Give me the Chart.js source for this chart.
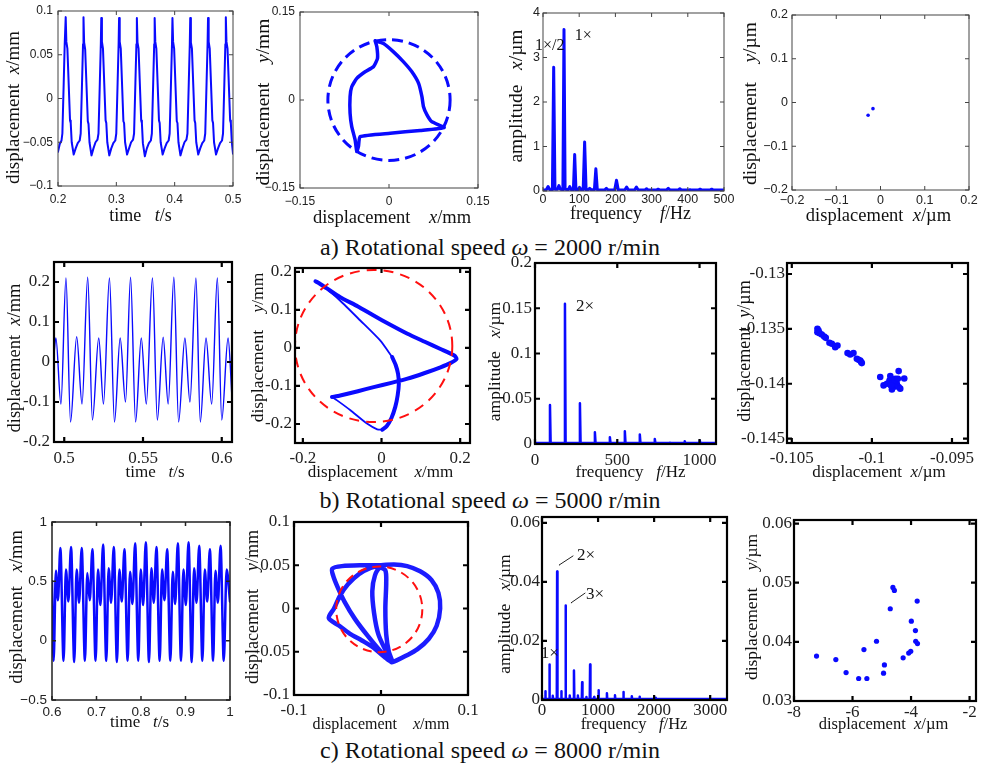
<!DOCTYPE html>
<html>
<head>
<meta charset="utf-8">
<script src="https://cdn.jsdelivr.net/npm/chart.js@4.4.1/dist/chart.umd.min.js"></script>
<style>
body { margin: 0; background: #fff; width: 986px; height: 764px; position: relative; overflow: hidden; }
canvas { position: absolute; }
.cap { position: absolute; font-family: "Liberation Serif", "Times New Roman", serif; font-size: 24px; color: #111;
       white-space: nowrap; transform: translate(-50%, -50%); line-height: 1; }
</style>
</head>
<body>
<div class="cap" style="left:490px;top:247px">a) Rotational speed <i>ω</i> = 2000 r/min</div>
<div class="cap" style="left:490px;top:500px">b) Rotational speed <i>ω</i> = 5000 r/min</div>
<div class="cap" style="left:490px;top:750px">c) Rotational speed <i>ω</i> = 8000 r/min</div>
<script>
// ---------- a) 2000 r/min ----------
const tA = [0.2000,0.2030,0.2060,0.2075,0.2098,0.2115,
  0.2132,0.2143,0.2161,0.2206,0.2218,0.2235,0.2269,0.2303,0.2338,0.2372,0.2389,0.2412,0.2429,
  0.2437,0.2448,0.2466,0.2511,0.2523,0.2540,0.2574,0.2608,0.2643,0.2677,0.2694,0.2717,0.2734,
  0.2742,0.2753,0.2771,0.2816,0.2828,0.2845,0.2879,0.2913,0.2948,0.2982,0.2999,0.3022,0.3039,
  0.3047,0.3058,0.3076,0.3121,0.3133,0.3150,0.3184,0.3218,0.3253,0.3287,0.3304,0.3327,0.3344,
  0.3352,0.3363,0.3381,0.3426,0.3438,0.3455,0.3489,0.3523,0.3558,0.3592,0.3609,0.3632,0.3649,
  0.3657,0.3668,0.3686,0.3731,0.3743,0.3760,0.3794,0.3828,0.3863,0.3897,0.3914,0.3937,0.3954,
  0.3962,0.3973,0.3991,0.4036,0.4048,0.4065,0.4099,0.4133,0.4168,0.4202,0.4219,0.4242,0.4259,
  0.4267,0.4278,0.4296,0.4341,0.4353,0.4370,0.4404,0.4438,0.4473,0.4507,0.4524,0.4547,0.4564,
  0.4572,0.4583,0.4601,0.4646,0.4658,0.4675,0.4709,0.4743,0.4778,0.4812,0.4829,0.4852,0.4869,
  0.4877,0.4888,0.4906,0.4951,0.4963,0.4980,0.5000];
const xA = [-0.061,-0.052,-0.048,-0.040,0.018,0.062,
  0.093,0.065,0.057,-0.025,-0.028,-0.050,-0.064,-0.057,-0.051,-0.048,-0.040,0.018,0.062,
  0.093,0.064,0.056,-0.026,-0.029,-0.050,-0.065,-0.057,-0.050,-0.047,-0.040,0.018,0.062,
  0.092,0.065,0.057,-0.025,-0.028,-0.050,-0.065,-0.057,-0.051,-0.048,-0.040,0.018,0.062,
  0.092,0.065,0.057,-0.026,-0.028,-0.050,-0.064,-0.057,-0.050,-0.047,-0.040,0.018,0.062,
  0.092,0.064,0.057,-0.025,-0.028,-0.051,-0.066,-0.057,-0.051,-0.048,-0.040,0.018,0.062,
  0.092,0.065,0.057,-0.025,-0.028,-0.050,-0.064,-0.057,-0.051,-0.048,-0.040,0.018,0.062,
  0.092,0.065,0.057,-0.026,-0.028,-0.050,-0.065,-0.057,-0.050,-0.047,-0.040,0.018,0.062,
  0.092,0.064,0.057,-0.025,-0.028,-0.050,-0.064,-0.057,-0.051,-0.048,-0.040,0.018,0.062,
  0.092,0.065,0.057,-0.025,-0.028,-0.050,-0.064,-0.057,-0.051,-0.048,-0.040,0.018,0.062,
  0.093,0.065,0.057,-0.025,-0.028,-0.050,-0.063];

const orbAx = [-0.0234,-0.0205,-0.0194,-0.0262,-0.0403,-0.0543,-0.0628,-0.0656,-0.0656,-0.0628,-0.0571,-0.0543,-0.0515,-0.0487,
  0.0020,0.0526,0.0930,0.0720,0.0640,0.0580,0.0555,0.0499,0.0386,0.0245,0.0076,-0.0093,-0.0234];
const orbAy = [0.1008,0.0906,0.0708,0.0566,0.0481,0.0368,0.0226,0.0057,-0.0226,-0.0453,-0.0679,-0.0877,-0.0792,-0.0623,
  -0.0566,-0.0520,-0.0470,-0.0370,-0.0255,-0.0110,0.0057,0.0283,0.0480,0.0650,0.0820,0.0962,0.1008];
const ringA = [0, 0, 0.103];

const fA = [0,9,14,19,26,29.5,33,40,44,48,55,58,61,70,74,78,84,87.5,91,97,101,105,111,115,119,125,129,133,142,146,150,
  170,175,180,198,203,208,226,231,236,253,258,263,281,286,291,313,318,323,341,346,351,373,378,383,401,406,411,
  429,434,439,461,466,471,500];
const ampA = [0.02,0.03,0.10,0.03,0.03,2.78,0.04,0.04,0.12,0.04,0.03,3.63,0.04,0.03,0.10,0.03,0.03,0.82,0.03,
  0.03,0.08,0.03,0.03,1.10,0.03,0.03,0.06,0.03,0.03,0.50,0.03,0.02,0.06,0.02,0.02,0.24,0.02,0.02,0.09,0.02,
  0.02,0.09,0.02,0.02,0.05,0.02,0.02,0.04,0.02,0.02,0.06,0.02,0.02,0.05,0.02,0.02,0.03,0.02,0.02,0.04,0.02,
  0.02,0.04,0.02,0.02];

const poiAx = [-0.017, -0.028];
const poiAy = [-0.014, -0.029];

// ---------- b) 5000 r/min ----------
const tB = [0.4935,0.4947,0.4979,0.5011,0.5040,0.5079,0.5113,0.5149,0.5179,0.5219,0.5249,0.5287,0.5319,0.5355,
  0.5389,0.5421,0.5453,0.5489,0.5521,0.5560,0.5591,0.5628,0.5660,0.5696,0.5726,0.5766,0.5798,0.5836,0.5864,
  0.5900,0.5936,0.5972,0.6000,0.6040,0.6065];
const xB = [0.020,0.060,-0.105,0.210,-0.150,0.063,-0.105,0.212,-0.145,0.060,-0.105,0.210,-0.150,0.060,
  -0.100,0.212,-0.150,0.060,-0.105,0.210,-0.145,0.062,-0.105,0.212,-0.150,0.060,-0.100,0.210,-0.150,
  0.060,-0.105,0.210,-0.145,0.060,-0.090];

const orbBx = [0.027,0.036,0.042,0.044,0.041,0.035,0.025,0.013,0.002,null,
  -0.126,-0.105,-0.060,-0.020,0.025,0.066,0.110,0.150,0.175,0.191,0.185,0.150,0.110,0.066,0.020,-0.020,-0.060,-0.105,-0.140,-0.162,-0.168];
const orbBy = [-0.024,-0.045,-0.068,-0.095,-0.125,-0.155,-0.185,-0.206,-0.215,null,
  -0.129,-0.125,-0.114,-0.103,-0.092,-0.081,-0.066,-0.051,-0.040,-0.029,-0.020,-0.003,0.016,0.037,0.062,0.085,0.109,0.133,0.157,0.172,0.175];
const orbBthinX = [-0.168,-0.150,-0.105,-0.054,-0.003,0.027,null,0.002,-0.011,-0.037,-0.079,-0.113,-0.126];
const orbBthinY = [0.175,0.163,0.124,0.072,0.019,-0.024,null,-0.215,-0.214,-0.199,-0.164,-0.138,-0.129];
const ringB = [-0.02, 0.005, 0.2];

const fB = [0,87,91,95,178,182,186,269,273,277,360,364,368,451,455,459,542,546,550,633,637,641,724,728,732,
  815,819,823,906,910,914,997,1001,1005,1100];
const ampB = [0.001,0.001,0.043,0.001,0.001,0.155,0.001,0.001,0.045,0.001,0.001,0.013,0.001,0.001,0.0075,0.001,
  0.001,0.014,0.001,0.001,0.0105,0.001,0.001,0.0055,0.001,0.001,0.0015,0.001,0.001,0.003,0.001,0.001,0.004,0.001,0.001];

const poiBx = [-0.10340,-0.10333,-0.10340,-0.10327,-0.10313,-0.10298,-0.10288,-0.10265,-0.10250,-0.10229,-0.10215,
  -0.10152,-0.10135,-0.10115,-0.10094,-0.10083,-0.10073,-0.10067,-0.10063,
  -0.09948,-0.09885,-0.09833,-0.09798,-0.09927,-0.09906,-0.09890,-0.09875,-0.09865,-0.09854,-0.09848,-0.09844,
  -0.09833,-0.09823,-0.09875,-0.09860,-0.09838,-0.09881];
const poiBy = [-0.13500,-0.13515,-0.13530,-0.13539,-0.13552,-0.13570,-0.13582,-0.13627,-0.13636,-0.13667,-0.13652,
  -0.13721,-0.13733,-0.13721,-0.13773,-0.13782,-0.13788,-0.13803,-0.13812,
  -0.13939,-0.13930,-0.13885,-0.13952,-0.14015,-0.14000,-0.13970,-0.14000,-0.14030,-0.13955,-0.13985,-0.14006,
  -0.14030,-0.14045,-0.14052,-0.13970,-0.13955,-0.14015];

// ---------- c) 8000 r/min ----------
const tC = [0.6000,
  0.6036,0.6088,0.6133,0.6188, 0.6260,0.6313,0.6368,0.6428, 0.6500,0.6553,0.6608,0.6668, 0.6740,0.6793,0.6848,0.6908,
  0.6980,0.7033,0.7088,0.7148, 0.7220,0.7273,0.7328,0.7388, 0.7460,0.7513,0.7568,0.7628, 0.7700,0.7753,0.7808,0.7868,
  0.7940,0.7993,0.8048,0.8108, 0.8180,0.8233,0.8288,0.8348, 0.8420,0.8473,0.8528,0.8588, 0.8660,0.8713,0.8768,0.8828,
  0.8900,0.8953,0.9008,0.9068, 0.9140,0.9193,0.9248,0.9308, 0.9380,0.9433,0.9488,0.9548, 0.9620,0.9673,0.9728,0.9788,
  0.9860,0.9925,1.0000];
const xC = [0.50,
  -0.17,0.59,0.34,0.78, -0.17,0.60,0.33,0.79, -0.18,0.60,0.32,0.78, -0.17,0.57,0.34,0.77,
  -0.17,0.60,0.30,0.81, -0.17,0.61,0.32,0.79, -0.18,0.60,0.33,0.77, -0.17,0.58,0.31,0.82,
  -0.17,0.60,0.30,0.83, -0.18,0.61,0.32,0.79, -0.17,0.60,0.34,0.77, -0.17,0.58,0.31,0.82,
  -0.17,0.60,0.30,0.83, -0.18,0.61,0.32,0.80, -0.17,0.60,0.33,0.77, -0.17,0.59,0.32,0.80,
  -0.17,0.60,0.33];

const orbCx = [0.012,0.000,-0.015,-0.030,-0.042,-0.050,-0.055,-0.056,-0.045,-0.020,0.000,0.015,0.030,0.045,0.058,0.066,
  0.068,0.064,0.055,0.042,0.028,0.018,0.012,0.006,-0.003,-0.008,-0.010,-0.007,-0.001,0.005,0.006,0.005,0.006,0.009,0.013,
  0.004,-0.009,-0.022,-0.036,-0.048,-0.060,-0.054,-0.047,-0.038,-0.025,-0.012,0.000];
const orbCy = [-0.062,-0.050,-0.032,-0.012,0.008,0.025,0.038,0.046,0.049,0.050,0.050,0.051,0.049,0.043,0.033,0.018,
  0.000,-0.020,-0.035,-0.047,-0.055,-0.060,-0.062,-0.050,-0.030,-0.005,0.020,0.038,0.047,0.044,0.030,0.000,-0.030,-0.050,-0.062,
  -0.056,-0.045,-0.037,-0.029,-0.020,-0.011,0.000,0.015,0.028,0.040,0.047,0.050];
const ringC = [-0.002, -0.001, 0.0495];

const fC = [0,55,60,65,125,132,139,187,192,197,264,270,276,340,345,350,413,420,427,490,495,500,563,570,577,
  635,640,645,710,716,722,785,790,795,852,858,864,925,930,935,1002,1008,1014,1152,1158,1164,1296,1302,1308,
  1446,1452,1458,1596,1602,1608,1734,1740,1746,2022,2028,2034,3300];
const ampC = [0.0003,0.0003,0.003,0.0003,0.0003,0.012,0.0003,0.0003,0.0014,0.0003,0.0003,0.0435,0.0003,
  0.0003,0.003,0.0003,0.0003,0.032,0.0003,0.0003,0.0015,0.0003,0.0003,0.010,0.0003,0.0003,0.0015,0.0003,
  0.0003,0.006,0.0003,0.0003,0.001,0.0003,0.0003,0.012,0.0003,0.0003,0.001,0.0003,0.0003,0.0033,0.0003,
  0.0003,0.0023,0.0003,0.0003,0.0016,0.0003,0.0003,0.0027,0.0003,0.0003,0.0013,0.0003,0.0003,0.0011,0.0003,
  0.0003,0.0008,0.0003,0.0003];
const lead2x = [303, 553], lead2y = [0.0457, 0.0488];
const lead3x = [517, 767], lead3y = [0.0329, 0.0362];

const poiCx = [-7.23,-6.57,-6.22,-5.79,-5.51,-5.61,-5.18,-4.94,-4.91,-4.71,-4.62,-4.57,-4.27,-4.08,-4.01,-3.99,-3.85,-3.84,-3.78,-3.79];
const poiCy = [0.0376,0.0370,0.0348,0.0338,0.0338,0.0387,0.0401,0.0347,0.0361,0.0456,0.0492,0.0487,0.0373,0.0381,0.0384,0.0435,0.0419,0.0401,0.0397,0.0469];

// ---------- drawing ----------
const BLUE = '#0a0aff', RED = '#ff1010';
const SANS = '"Liberation Sans", Arial, sans-serif';
const SERIF = '"Liberation Serif", "Times New Roman", serif';
const PL = 70, PT = 16, PR = 26, PB = 56;

function pts(xs, ys) { return xs.map((x, i) => ({ x: x, y: ys[i] })); }
function line(xs, ys, w, extra) {
  return Object.assign({ data: pts(xs, ys), showLine: true, pointRadius: 0, borderColor: BLUE, borderWidth: w,
    borderJoinStyle: 'round', borderCapStyle: 'round' }, extra || {});
}
function dots(xs, ys, r) {
  return { data: pts(xs, ys), showLine: false, pointRadius: r, pointBackgroundColor: BLUE, pointBorderWidth: 0 };
}

function richText(ctx, text, size, cx, cy, rot) {
  const parts = text.split('|');
  const fonts = parts.map((_, i) => (i % 2 ? 'italic ' : '') + size + 'px ' + SERIF);
  let total = 0;
  const widths = parts.map((p, i) => { ctx.font = fonts[i]; const w = ctx.measureText(p).width; total += w; return w; });
  ctx.save();
  ctx.translate(cx, cy);
  if (rot) ctx.rotate(-Math.PI / 2);
  ctx.textBaseline = 'middle';
  ctx.textAlign = 'left';
  ctx.fillStyle = '#111';
  let x = -total / 2;
  parts.forEach((p, i) => { ctx.font = fonts[i]; ctx.fillText(p, x, 0); x += widths[i]; });
  ctx.restore();
}

function deco(s) {
  return {
    id: 'deco',
    afterDatasetsDraw(chart) {
      const { ctx, chartArea: a, scales: { x, y } } = chart;
      ctx.save();
      if (s.ring) {
        const [cx, cy, r] = s.ring.c;
        const px = x.getPixelForValue(cx), py = y.getPixelForValue(cy);
        const rx = Math.abs(x.getPixelForValue(cx + r) - px), ry = Math.abs(y.getPixelForValue(cy + r) - py);
        ctx.beginPath();
        ctx.ellipse(px, py, rx, ry, 0, 0, 2 * Math.PI);
        ctx.setLineDash(s.ring.dash);
        ctx.lineWidth = s.ring.w;
        ctx.strokeStyle = s.ring.color;
        ctx.stroke();
        ctx.setLineDash([]);
      }
      const f = s.frame;
      ctx.strokeStyle = f.color;
      ctx.lineWidth = f.lw;
      ctx.beginPath();
      x.ticks.forEach(t => {
        const p = x.getPixelForValue(t.value);
        ctx.moveTo(p, a.bottom); ctx.lineTo(p, a.bottom - f.tick);
        ctx.moveTo(p, a.top); ctx.lineTo(p, a.top + f.tick);
      });
      y.ticks.forEach(t => {
        const p = y.getPixelForValue(t.value);
        ctx.moveTo(a.left, p); ctx.lineTo(a.left + f.tick, p);
        ctx.moveTo(a.right, p); ctx.lineTo(a.right - f.tick, p);
      });
      ctx.stroke();
      ctx.strokeRect(a.left, a.top, a.right - a.left, a.bottom - a.top);
      (s.notes || []).forEach(n => {
        ctx.font = n.size + 'px ' + SERIF;
        ctx.fillStyle = '#111';
        ctx.textAlign = 'center';
        ctx.textBaseline = 'middle';
        ctx.fillText(n.text, x.getPixelForValue(n.x), y.getPixelForValue(n.y));
      });
      richText(ctx, s.xTitle[0], s.xTitle[1], (a.left + a.right) / 2 + s.xTitle[3], a.bottom + s.xTitle[2], false);
      richText(ctx, s.yTitle[0], s.yTitle[1], a.left - s.yTitle[2], (a.top + a.bottom) / 2 + s.yTitle[3], true);
      ctx.restore();
    }
  };
}

function panel(s) {
  const [L, T, R, B] = s.box;
  const W = R - L + PL + PR, H = B - T + PT + PB;
  const cv = document.createElement('canvas');
  cv.width = W; cv.height = H;
  cv.style.left = (L - PL) + 'px'; cv.style.top = (T - PT) + 'px';
  cv.style.width = W + 'px'; cv.style.height = H + 'px';
  document.body.appendChild(cv);
  const fmt = v => { const t = String(v); return s.minus ? t.replace('-', '\u2212') : t; };
  const tickFont = { family: s.font === 'sans' ? SANS : SERIF, size: s.fs };
  const axis = (range, ticks, pad, isX) => ({
    type: 'linear', min: range[0], max: range[1], bounds: 'data',
    grid: { display: false, drawTicks: false }, border: { display: false },
    ticks: { autoSkip: false, maxRotation: 0, minRotation: 0, padding: pad, font: tickFont, color: '#222', callback: fmt },
    afterBuildTicks: sc => { sc.ticks = ticks.map(v => ({ value: v })); },
    afterFit: sc => { if (isX) sc.height = PB; else sc.width = PL; }
  });
  new Chart(cv, {
    type: 'scatter',
    data: { datasets: s.sets },
    options: {
      responsive: false, animation: false, devicePixelRatio: 1, events: [],
      layout: { padding: { left: 0, top: PT, right: PR, bottom: 0 } },
      plugins: { legend: { display: false }, tooltip: { enabled: false } },
      scales: { x: axis(s.xr, s.xt, s.xPad, true), y: axis(s.yr, s.yt, s.yPad, false) }
    },
    plugins: [deco(s)]
  });
}

const thinFrame = { lw: 1, color: '#444', tick: 4 };
const boldFrame = { lw: 2.2, color: '#000', tick: 5 };

panel({ box: [58, 11, 233, 186], xr: [0.2, 0.5], yr: [-0.1, 0.1], xt: [0.2, 0.3, 0.4, 0.5], yt: [-0.1, -0.05, 0, 0.05, 0.1],
  font: 'sans', fs: 12, minus: true, xPad: 6, yPad: 5, frame: thinFrame,
  xTitle: ['time   |t|/s', 18, 30, -5], yTitle: ['displacement  |x|/mm', 19, 44, 9],
  sets: [line(tA, xA, 2)] });
panel({ box: [300, 12, 478, 188], xr: [-0.15, 0.15], yr: [-0.15, 0.15], xt: [-0.15, 0, 0.15], yt: [-0.15, 0, 0.15],
  font: 'sans', fs: 12, minus: true, xPad: 6, yPad: 5, frame: thinFrame,
  ring: { c: ringA, color: BLUE, w: 3, dash: [11, 6] },
  xTitle: ['displacement    |x|/mm', 18.5, 30, 3], yTitle: ['displacement    |y|/mm', 19.5, 36, 2],
  sets: [line(orbAx, orbAy, 3.5, { tension: 0.15 })] });
panel({ box: [543, 13, 724, 191], xr: [0, 500], yr: [0, 4], xt: [0, 100, 200, 300, 400, 500], yt: [0, 1, 2, 3, 4],
  font: 'sans', fs: 12.5, minus: true, xPad: 1, yPad: 3, frame: thinFrame,
  notes: [{ text: '1×/2', x: 18.5, y: 3.27, size: 16 }, { text: '1×', x: 111, y: 3.48, size: 16 }],
  xTitle: ['frequency    |f|/Hz', 18, 23, -3], yTitle: ['amplitude   |x|/µm', 19.5, 26, -6],
  sets: [line(fA, ampA, 3)] });
panel({ box: [792, 15, 969, 190], xr: [-0.2, 0.2], yr: [-0.2, 0.2], xt: [-0.2, -0.1, 0, 0.1, 0.2], yt: [-0.2, -0.1, 0, 0.1, 0.2],
  font: 'sans', fs: 12.5, minus: true, xPad: 3, yPad: 4, frame: thinFrame,
  xTitle: ['displacement  |x|/µm', 18.5, 26, -2], yTitle: ['displacement    |y|/µm', 19.5, 41, 1],
  sets: [dots(poiAx, poiAy, 1.8)] });

panel({ box: [54, 262, 232, 442], xr: [0.4935, 0.6065], yr: [-0.2, 0.25], xt: [0.5, 0.55, 0.6], yt: [-0.2, -0.1, 0, 0.1, 0.2],
  font: 'serif', fs: 17, minus: false, xPad: 6, yPad: 4, frame: boldFrame,
  xTitle: ['time   |t|/s', 17, 31, 12], yTitle: ['displacement  |x|/mm', 18.5, 39, 6],
  sets: [line(tB, xB, 1.4, { cubicInterpolationMode: 'monotone' })] });
panel({ box: [295, 268, 470, 443], xr: [-0.22, 0.225], yr: [-0.25, 0.21], xt: [-0.2, 0, 0.2], yt: [-0.2, -0.1, 0, 0.1, 0.2],
  font: 'serif', fs: 17, minus: false, xPad: 5, yPad: 3, frame: boldFrame,
  ring: { c: ringB, color: RED, w: 2, dash: [10, 7] },
  xTitle: ['displacement    |x|/mm', 17, 30, -2], yTitle: ['displacement    |y|/mm', 17.5, 37, -8],
  sets: [line(orbBthinX, orbBthinY, 1.8, { tension: 0.2 }), line(orbBx, orbBy, 4, { tension: 0.2 })] });
panel({ box: [535, 263, 716, 444], xr: [0, 1100], yr: [0, 0.2], xt: [0, 500, 1000], yt: [0, 0.05, 0.1, 0.15, 0.2],
  font: 'serif', fs: 17, minus: false, xPad: 6, yPad: 3, frame: boldFrame,
  notes: [{ text: '2×', x: 304, y: 0.1514, size: 17 }],
  xTitle: ['frequency   |f|/Hz', 17, 29, 5], yTitle: ['amplitude   |x|/µm', 17.5, 40, 8],
  sets: [line(fB, ampB, 2.5)] });
panel({ box: [787, 263, 968, 443], xr: [-0.1053, -0.094], yr: [-0.1454, -0.129], xt: [-0.105, -0.1, -0.095], yt: [-0.145, -0.14, -0.135, -0.13],
  font: 'serif', fs: 17, minus: false, xPad: 5, yPad: 2, frame: boldFrame,
  xTitle: ['displacement  |x|/µm', 17, 30, 1.5], yTitle: ['displacement  |y|/µm', 18, 42, -2],
  sets: [dots(poiBx, poiBy, 3.3)] });

panel({ box: [52, 522, 230, 700], xr: [0.6, 1], yr: [-0.5, 1], xt: [0.6, 0.7, 0.8, 0.9, 1], yt: [-0.5, 0, 0.5, 1],
  font: 'sans', fs: 13.5, minus: true, xPad: 4, yPad: 5, frame: { lw: 1.5, color: '#222', tick: 4 },
  xTitle: ['time   |t|/s', 17, 23, -1.5], yTitle: ['displacement   |x|/mm', 18.5, 35, -4],
  sets: [line(tC, xC, 2.5, { cubicInterpolationMode: 'monotone' })] });
panel({ box: [294, 522, 468, 695], xr: [-0.1, 0.1], yr: [-0.1, 0.1], xt: [-0.1, 0, 0.1], yt: [-0.1, -0.05, 0, 0.05, 0.1],
  font: 'serif', fs: 17, minus: false, xPad: 5, yPad: 4, frame: boldFrame,
  ring: { c: ringC, color: RED, w: 2, dash: [9, 6] },
  xTitle: ['displacement    |x|/mm', 16, 30, 0], yTitle: ['displacement    |y|/mm', 18, 41, -1.5],
  sets: [line(orbCx, orbCy, 4.5, { tension: 0.3, borderColor: '#1c1cff' })] });
panel({ box: [542, 517, 727, 700], xr: [0, 3300], yr: [0, 0.062], xt: [0, 1000, 2000, 3000], yt: [0, 0.02, 0.04, 0.06],
  font: 'serif', fs: 17, minus: false, xPad: 0, yPad: 2, frame: boldFrame,
  notes: [{ text: '2×', x: 785, y: 0.0491, size: 17 }, { text: '3×', x: 945, y: 0.0356, size: 17 }, { text: '1×', x: 140, y: 0.0157, size: 17 }],
  xTitle: ['frequency   |f|/Hz', 16.5, 25, -0.5], yTitle: ['amplitude   |x|/µm', 17.5, 37, 5.5],
  sets: [line(fC, ampC, 2.5), line(lead2x, lead2y, 1, { borderColor: '#222' }), line(lead3x, lead3y, 1, { borderColor: '#222' })] });
panel({ box: [794, 520, 976, 701], xr: [-8, -1.78], yr: [0.03, 0.0606], xt: [-8, -6, -4, -2], yt: [0.03, 0.04, 0.05, 0.06],
  font: 'serif', fs: 17, minus: false, xPad: 1, yPad: 2, frame: boldFrame,
  xTitle: ['displacement  |x|/µm', 16.5, 24, -1.5], yTitle: ['displacement    |y|/µm', 17.5, 42, -3.5],
  sets: [dots(poiCx, poiCy, 2.6)] });
</script>
</body>
</html>
